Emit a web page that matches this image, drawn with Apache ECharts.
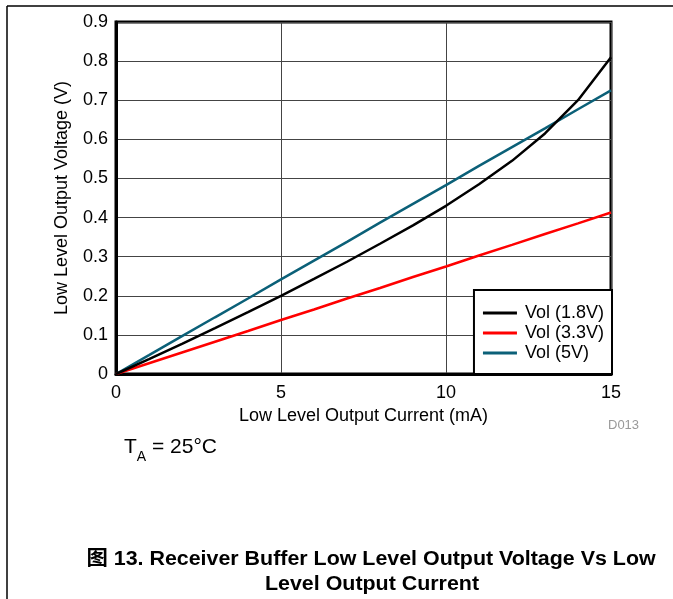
<!DOCTYPE html>
<html><head><meta charset="utf-8">
<script src="https://cdn.jsdelivr.net/npm/echarts@6/dist/echarts.min.js"></script>
<style>html,body{margin:0;padding:0;background:#fff}#c{width:673px;height:599px}</style>
</head><body><div id="c"></div>
<script>
const current = [0,1,2,3,4,5,6,7,8,9,10,11,12,13,14,15];
const vol18 = [0,0.038,0.077,0.117,0.158,0.2,0.243,0.287,0.333,0.38,0.43,0.485,0.545,0.615,0.7,0.81];
const vol33 = [0,0.0275,0.055,0.0826,0.110,0.138,0.165,0.193,0.220,0.248,0.275,0.303,0.330,0.358,0.385,0.413];
const vol5  = [0,0.0483,0.0967,0.145,0.193,0.242,0.290,0.338,0.387,0.435,0.483,0.532,0.580,0.628,0.677,0.725];
const seriesNames = ['Vol (1.8V)','Vol (3.3V)','Vol (5V)'];
const seriesColors = ['#000000','#ff0000','#0b6078'];
const F = '"Liberation Sans", Arial, sans-serif';
const FB = 'bold 20px "Liberation Sans", "Noto Sans CJK SC", Arial, sans-serif';
const pairs = a => current.map((x,i)=>[x,a[i]]);
const chart = echarts.init(document.getElementById('c'), null, {renderer:'canvas'});
chart.setOption({
  animation:false,
  backgroundColor:'#fff',
  grid:{left:116, top:22, right:62, bottom:225, show:true, borderColor:'#000', borderWidth:3, backgroundColor:'transparent'},
  xAxis:{type:'value', min:0, max:15, interval:5,
    name:'Low Level Output Current (mA)', nameLocation:'middle', nameGap:32,
    nameTextStyle:{fontFamily:F, fontSize:18, color:'#000'},
    axisLine:{show:true, lineStyle:{color:'#000', width:3}}, axisTick:{show:false},
    axisLabel:{fontFamily:F, fontSize:18, color:'#000', margin:10},
    splitLine:{show:true, lineStyle:{color:'#444', width:1}}},
  yAxis:{type:'value', min:0, max:0.9, interval:0.1,
    name:'Low Level Output Voltage (V)', nameLocation:'middle', nameGap:45,
    nameTextStyle:{fontFamily:F, fontSize:18, color:'#000'},
    axisLine:{show:true, lineStyle:{color:'#000', width:3}}, axisTick:{show:false},
    axisLabel:{fontFamily:F, fontSize:18, color:'#000', margin:8, formatter:v=>String(+v.toFixed(1))},
    splitLine:{show:true, lineStyle:{color:'#444', width:1}}},
  legend:{orient:'vertical', right:61, bottom:225, itemWidth:34, itemHeight:3, itemGap:2,
    backgroundColor:'#fff', borderColor:'#000', borderWidth:2, padding:[14,8,12,9],
    textStyle:{fontFamily:F, fontSize:18, color:'#000', padding:[0,0,0,3]},
    data:seriesNames.map(n=>({name:n, icon:'rect'}))},
  series:[vol18, vol33, vol5].map((a,i)=>({
    name:seriesNames[i], type:'line', data:pairs(a), showSymbol:false, symbol:'none',
    color:seriesColors[i], lineStyle:{color:seriesColors[i], width:2.5}, z:3-i
  })),
  graphic:[
    {type:'line', shape:{x1:7,y1:6,x2:673,y2:6}, style:{stroke:'#000', lineWidth:1.5}},
    {type:'line', shape:{x1:7,y1:6,x2:7,y2:599}, style:{stroke:'#000', lineWidth:1.5}},
    {type:'text', x:608, y:419, style:{text:'D013', font:'13px '+F, fill:'#999'}},
    {type:'text', x:124, y:437, style:{
      text:'{t|T}{s|A}{t| = 25°C}',
      rich:{t:{fontFamily:F, fontSize:21, fill:'#000', verticalAlign:'bottom'},
            s:{fontFamily:F, fontSize:14, fill:'#000', verticalAlign:'bottom', padding:[0,0,-6,0]}}}},
    {type:'text', x:371, y:559, scaleX:1.07, style:{text:'图 13. Receiver Buffer Low Level Output Voltage Vs Low', font:FB, fill:'#000', textAlign:'center', textVerticalAlign:'middle'}},
    {type:'text', x:372, y:584, scaleX:1.07, style:{text:'Level Output Current', font:FB, fill:'#000', textAlign:'center', textVerticalAlign:'middle'}}
  ]
});
</script></body></html>
